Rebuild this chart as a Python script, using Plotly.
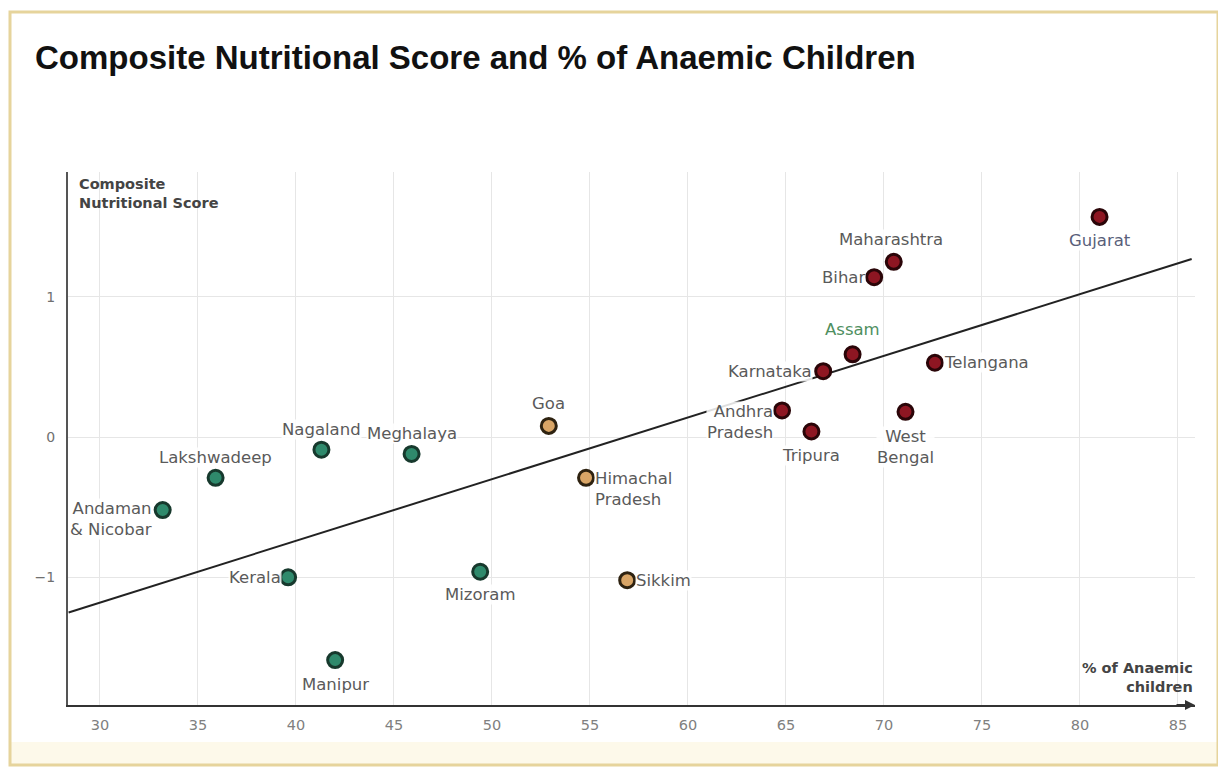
import plotly.graph_objects as go

# ---- data ----
states = ["Andaman<br>& Nicobar", "Lakshwadeep", "Nagaland", "Meghalaya", "Kerala", "Manipur", "Mizoram",
          "Goa", "Himachal<br>Pradesh", "Sikkim",
          "Bihar", "Maharashtra", "Gujarat", "Assam", "Karnataka", "Telangana",
          "Andhra<br>Pradesh", "Tripura", "West<br>Bengal"]
anaemic_pct = [33.2, 35.9, 41.3, 45.9, 39.6, 42.0, 49.4,
               52.9, 54.8, 56.9,
               69.5, 70.5, 81.0, 68.4, 66.9, 72.6,
               64.8, 66.3, 71.1]
nutri_score = [-0.52, -0.29, -0.09, -0.12, -1.00, -1.59, -0.96,
               0.08, -0.29, -1.02,
               1.14, 1.25, 1.57, 0.59, 0.47, 0.53,
               0.19, 0.04, 0.18]
group = ["low"] * 7 + ["mid"] * 3 + ["high"] * 9

trend_x = [28.4, 85.7]
trend_y = [-1.25, 1.27]

x_ticks = [30, 35, 40, 45, 50, 55, 60, 65, 70, 75, 80, 85]
y_ticks = [-1, 0, 1]

# ---- styles ----
fill = {"low": "#2f8a6c", "mid": "#d9a566", "high": "#8e1622"}
ring = {"low": "#17392d", "mid": "#2e2210", "high": "#2a0508"}
label_pos = {  # (xanchor, yanchor, xshift, yshift)
    "Andaman<br>& Nicobar": ("right", "middle", -10, -9),
    "Lakshwadeep": ("center", "bottom", 0, 10),
    "Nagaland": ("center", "bottom", 0, 10),
    "Meghalaya": ("center", "bottom", 0, 10),
    "Kerala": ("right", "middle", -6, 0),
    "Manipur": ("center", "top", 0, -14),
    "Mizoram": ("center", "top", 0, -12),
    "Goa": ("center", "bottom", 0, 12),
    "Himachal<br>Pradesh": ("left", "top", 8, 10),
    "Sikkim": ("left", "middle", 8, 0),
    "Bihar": ("right", "middle", -8, 0),
    "Maharashtra": ("center", "bottom", -3, 12),
    "Gujarat": ("center", "top", 0, -13),
    "Assam": ("center", "bottom", 0, 14),
    "Karnataka": ("right", "middle", -10, 0),
    "Telangana": ("left", "middle", 8, 0),
    "Andhra<br>Pradesh": ("right", "top", -8, 9),
    "Tripura": ("center", "top", 0, -14),
    "West<br>Bengal": ("center", "top", 0, -14),
}
label_color = {"Assam": "#4f8f5f", "Gujarat": "#59607a"}
LABEL_FONT = "DejaVu Sans"

fig = go.Figure()

fig.add_trace(go.Scatter(x=trend_x, y=trend_y, mode="lines",
                         line=dict(color="#222222", width=2), hoverinfo="skip", showlegend=False))

for g in ["low", "mid", "high"]:
    idx = [i for i, gg in enumerate(group) if gg == g]
    fig.add_trace(go.Scatter(
        x=[anaemic_pct[i] for i in idx], y=[nutri_score[i] for i in idx],
        mode="markers", showlegend=False,
        marker=dict(size=15, color=fill[g], line=dict(color=ring[g], width=3)),
        text=[states[i] for i in idx]))

annotations = []
for s, xv, yv in zip(states, anaemic_pct, nutri_score):
    xa, ya, xs, ys = label_pos[s]
    annotations.append(dict(x=xv, y=yv, text=s, showarrow=False, xanchor=xa, yanchor=ya,
                            xshift=xs, yshift=ys, align=xa if xa != "center" else "center",
                            font=dict(family=LABEL_FONT, size=16.5, color=label_color.get(s, "#5a5a5a")),
                            bgcolor="rgba(255,255,255,0.85)", borderpad=0))

annotations.append(dict(xref="paper", yref="paper", x=0.008, y=1.0, xanchor="left", yanchor="top",
                        yshift=-2, text="<b>Composite<br>Nutritional Score</b>", showarrow=False, align="left",
                        font=dict(family=LABEL_FONT, size=14.5, color="#444444")))
annotations.append(dict(xref="paper", yref="paper", x=1.0, y=0.005, xanchor="right", yanchor="bottom",
                        yshift=5, text="<b>% of Anaemic<br>children</b>", showarrow=False, align="right",
                        font=dict(family=LABEL_FONT, size=14.5, color="#444444")))
annotations.append(dict(xref="paper", yref="paper", x=1.0, y=0, ax=-20, ay=0, axref="pixel", ayref="pixel",
                        text="", showarrow=True, arrowhead=2, arrowsize=1, arrowwidth=2, arrowcolor="#333333"))

PW, PH = 1127, 533  # plot area in px

fig.update_layout(
    width=1218, height=762,
    margin=dict(l=60, r=31, t=164, b=65),
    paper_bgcolor="white", plot_bgcolor="white",
    title=dict(text="<b>Composite Nutritional Score and % of Anaemic Children</b>",
               x=27 / 1218, xanchor="left", y=1 - 49 / 762, yanchor="middle",
               font=dict(family="Liberation Sans", size=33, color="#111111")),
    xaxis=dict(range=[28.37, 85.87], tickvals=x_ticks, showgrid=True, gridcolor="#e6e6e6", gridwidth=1,
               zeroline=False, showline=True, linecolor="#333333", linewidth=2, ticks="", automargin=False,
               tickfont=dict(family=LABEL_FONT, size=14.5, color="#808080"), ticklabelstandoff=6),
    yaxis=dict(range=[-1.91, 1.89], tickvals=y_ticks, showgrid=True, gridcolor="#e6e6e6", gridwidth=1,
               zeroline=False, showline=True, linecolor="#555555", linewidth=2, ticks="", automargin=False,
               tickfont=dict(family=LABEL_FONT, size=14, color="#707070"), ticklabelstandoff=8),
    annotations=annotations,
    shapes=[
        dict(type="rect", xref="paper", yref="paper",
             x0=-58 / PW, x1=1 + 23 / PW, y0=-60 / PH, y1=-37 / PH,
             line=dict(width=0), fillcolor="#fdf9ea", layer="below"),
        dict(type="rect", xref="paper", yref="paper",
             x0=-58 / PW, x1=1 + 23 / PW, y0=-60 / PH, y1=1 + 160 / PH,
             line=dict(color="#e6d49c", width=3), fillcolor="rgba(0,0,0,0)", layer="below"),
    ],
)

fig.write_html("out.html")
